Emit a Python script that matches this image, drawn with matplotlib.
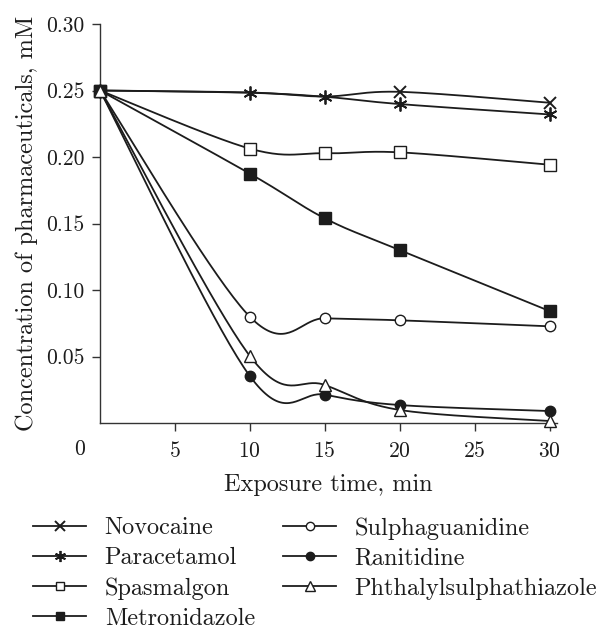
import numpy as np
import matplotlib
matplotlib.use("Agg")
import matplotlib.pyplot as plt
from matplotlib.lines import Line2D

plt.rcParams["font.family"] = ["cmr10", "DejaVu Serif"]
plt.rcParams["axes.formatter.use_mathtext"] = True
plt.rcParams["mathtext.fontset"] = "cm"

# exposure time, min
time_min = [0, 10, 15, 20, 30]

# concentration, mM
novocaine = [0.250, 0.2485, 0.2455, 0.2490, 0.2408]
paracetamol = [0.250, 0.2483, 0.2453, 0.2398, 0.2320]
spasmalgon = [0.250, 0.2063, 0.2028, 0.2035, 0.1942]
metronidazole = [0.250, 0.1875, 0.1539, 0.1300, 0.0842]
sulphaguanidine = [0.250, 0.0799, 0.0787, 0.0772, 0.0727]
ranitidine = [0.250, 0.0353, 0.0213, 0.0135, 0.0090]
phthalyl = [0.250, 0.0504, 0.0286, 0.0098, 0.0015]

names = ["Novocaine", "Paracetamol", "Spasmalgon", "Metronidazole",
         "Sulphaguanidine", "Ranitidine", "Phthalylsulphathiazole"]
series = [novocaine, paracetamol, spasmalgon, metronidazole,
          sulphaguanidine, ranitidine, phthalyl]

ink = "#1c1c1c"
styles = [
    dict(marker="x", ms=9, mew=1.4, mfc=ink),
    dict(marker=(6, 2, 0), ms=10, mew=1.3, mfc=ink),
    dict(marker="s", ms=8, mew=1.0, mfc="white"),
    dict(marker="s", ms=8, mew=1.0, mfc=ink),
    dict(marker="o", ms=7.5, mew=1.0, mfc="white"),
    dict(marker="o", ms=7.5, mew=1.0, mfc=ink),
    dict(marker="^", ms=9, mew=1.0, mfc="white"),
]


def smooth(x, y, n=40):
    # excel-like smoothed line (bezier through the points)
    p = np.column_stack([x, y]).astype(float)
    pp = np.vstack([p[0], p, p[-1]])
    out = [p[:1]]
    t = np.linspace(0, 1, n)[1:, None]
    for i in range(len(p) - 1):
        p0, p1 = pp[i + 1], pp[i + 2]
        c1 = p0 + (pp[i + 2] - pp[i]) / 6
        c2 = p1 - (pp[i + 3] - pp[i + 1]) / 6
        seg = ((1 - t) ** 3) * p0 + 3 * ((1 - t) ** 2) * t * c1 \
            + 3 * (1 - t) * t ** 2 * c2 + t ** 3 * p1
        out.append(seg)
    q = np.vstack(out)
    return q[:, 0], q[:, 1]


fig = plt.figure(figsize=(6, 6.3), dpi=100)
ax = fig.add_axes([100 / 600, 1 - 423 / 630, 457 / 600, 399 / 630])

handles = []
for k, (nm, ys, st) in enumerate(zip(names, series, styles)):
    sx, sy = smooth(time_min, ys)
    ax.plot(sx, sy, color=ink, lw=1.3, zorder=2)
    mk = [3, 4] if nm == "Novocaine" else None
    ax.plot(time_min, ys, ls="none", color=ink, mec=ink, clip_on=False,
            zorder=3 + k, markevery=mk, marker=st["marker"], ms=st["ms"],
            mew=st["mew"], mfc=st["mfc"])
    handles.append(Line2D([], [], color=ink, lw=1.3, marker=st["marker"],
                          ms=st["ms"] * 0.8, mew=st["mew"], mfc=st["mfc"],
                          mec=ink, label=nm))

ax.set_xlim(0, 30.5)
ax.set_ylim(0, 0.30)
ax.set_xticks([5, 10, 15, 20, 25, 30])
ax.set_yticks([0.05, 0.10, 0.15, 0.20, 0.25, 0.30])
ax.set_yticklabels(["0.05", "0.10", "0.15", "0.20", "0.25", "0.30"])
for s in ["top", "right"]:
    ax.spines[s].set_visible(False)
for s in ["left", "bottom"]:
    ax.spines[s].set_color("#333333")
    ax.spines[s].set_linewidth(1.0)
ax.tick_params(axis="both", direction="out", length=6, width=1.0,
               color="#333333", labelsize=15.5, labelcolor=ink)
ax.tick_params(axis="x", pad=7)
ax.tick_params(axis="y", pad=5)

ax.annotate("0", xy=(0, 0), xycoords="data", xytext=(-14.5, -12),
            textcoords="offset points", ha="center", va="top",
            fontsize=15.5, color=ink)

ax.set_xlabel("Exposure time, min", fontsize=17.5, color=ink, labelpad=9)
ax.set_ylabel("Concentration of pharmaceuticals, mM", fontsize=17.5,
              color=ink, labelpad=6)

leg_kw = dict(frameon=False, fontsize=17.5, handlelength=2.2,
              handletextpad=0.75, labelspacing=0.33, borderaxespad=0,
              borderpad=0, labelcolor=ink)
fig.legend(handles=handles[:4], loc="upper left",
           bbox_to_anchor=(33 / 600, 1 - 517 / 630), **leg_kw)
fig.legend(handles=handles[4:], loc="upper left",
           bbox_to_anchor=(283 / 600, 1 - 517 / 630), **leg_kw)

fig.savefig("out.png", dpi=100)
